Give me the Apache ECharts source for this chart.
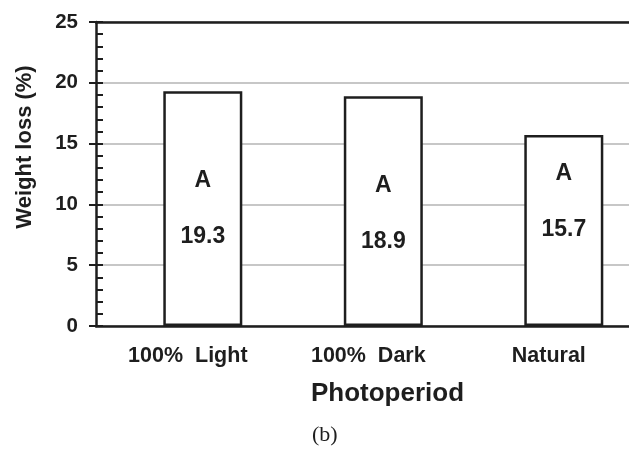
<!DOCTYPE html>
<html><head><meta charset="utf-8">
<script src="https://cdn.jsdelivr.net/npm/echarts@6/dist/echarts.min.js"></script>
<style>html,body{margin:0;padding:0;background:#fff}#c{width:629px;height:459px}</style>
</head><body><div id="c"></div>
<script>
// ---- data ----
const categories = ['100%  Light', '100%  Dark', 'Natural'];
const weightLoss = [19.3, 18.9, 15.7];
const letters = ['A', 'A', 'A'];
const xAxisTitle = 'Photoperiod';
const yAxisTitle = 'Weight loss (%)';
const panelLabel = '(b)';

// ---- layout / style ----
const labelDrop = [62, 62, 11];
const FONT = '"Liberation Sans", Arial, Helvetica, sans-serif';
const INK = '#1e1e1e';
const X_MIN = -0.5917, X_MAX = 2.3612;

const chart = echarts.init(document.getElementById('c'), null, {renderer: 'canvas'});
const txt = (size, extra) => Object.assign({fontFamily: FONT, fontWeight: 'bold', fontSize: size, color: INK}, extra || {});
const option = {
  animation: false,
  backgroundColor: '#fff',
  title: {
    text: panelLabel, left: 312, top: 424, padding: 0,
    textStyle: {fontFamily: '"Liberation Serif", "DejaVu Serif", serif', fontWeight: 'normal', fontSize: 22, color: INK}
  },
  grid: {left: 96, right: 0, top: 22, bottom: 133},
  xAxis: [{
    type: 'value', min: X_MIN, max: X_MAX, position: 'bottom',
    axisLine: {show: true, onZero: false, lineStyle: {color: INK, width: 2.5}},
    axisTick: {show: false}, splitLine: {show: false},
    axisLabel: Object.assign(txt(21.5), {
      customValues: [0, 1, 2],
      formatter: v => categories[Math.round(v)],
      margin: 19, padding: [0, 30, 0, 0]
    }),
    name: xAxisTitle, nameLocation: 'middle', nameGap: 55,
    nameTextStyle: txt(26, {padding: [0, 0, 0, 50]})
  }, {
    type: 'value', min: X_MIN, max: X_MAX, position: 'top',
    axisLine: {show: true, onZero: false, lineStyle: {color: INK, width: 2.5}},
    axisTick: {show: false}, axisLabel: {show: false}, splitLine: {show: false}
  }],
  yAxis: [{
    type: 'value', min: 0, max: 25, interval: 5, position: 'left',
    axisLine: {show: true, onZero: false, lineStyle: {color: INK, width: 2.5}},
    axisTick: {show: true, inside: true, length: 7, lineStyle: {color: INK, width: 2}},
    minorTick: {show: true, splitNumber: 5, length: 7, lineStyle: {color: INK, width: 2}},
    splitLine: {show: true, lineStyle: {color: '#b4b4b4', width: 1.5}},
    axisLabel: txt(20.5, {margin: 18}),
    name: yAxisTitle, nameLocation: 'middle', nameGap: 60, nameRotate: 90,
    nameTextStyle: txt(22, {padding: [0, 0, 0, 54]})
  }, {
    type: 'value', min: 0, max: 25, interval: 5, position: 'left',
    axisLine: {show: false, onZero: false},
    axisTick: {show: true, inside: false, length: 7, lineStyle: {color: INK, width: 2}},
    axisLabel: {show: false}, splitLine: {show: false}
  }],
  series: [{
    type: 'bar', xAxisIndex: 0, yAxisIndex: 0, barWidth: 79,
    data: weightLoss.map((v, i) => ({value: [i, v], label: {distance: labelDrop[i]}})),
    itemStyle: {color: '#fff', borderColor: INK, borderWidth: 2.5},
    label: {
      show: true, position: 'insideTop',
      formatter: p => '{a|' + letters[p.dataIndex] + '}\n{v|' + weightLoss[p.dataIndex].toFixed(1) + '}',
      rich: {
        a: txt(23, {lineHeight: 55.5}),
        v: txt(23, {lineHeight: 55.5})
      }
    }
  }]
};
chart.setOption(option);
</script>
</body></html>
